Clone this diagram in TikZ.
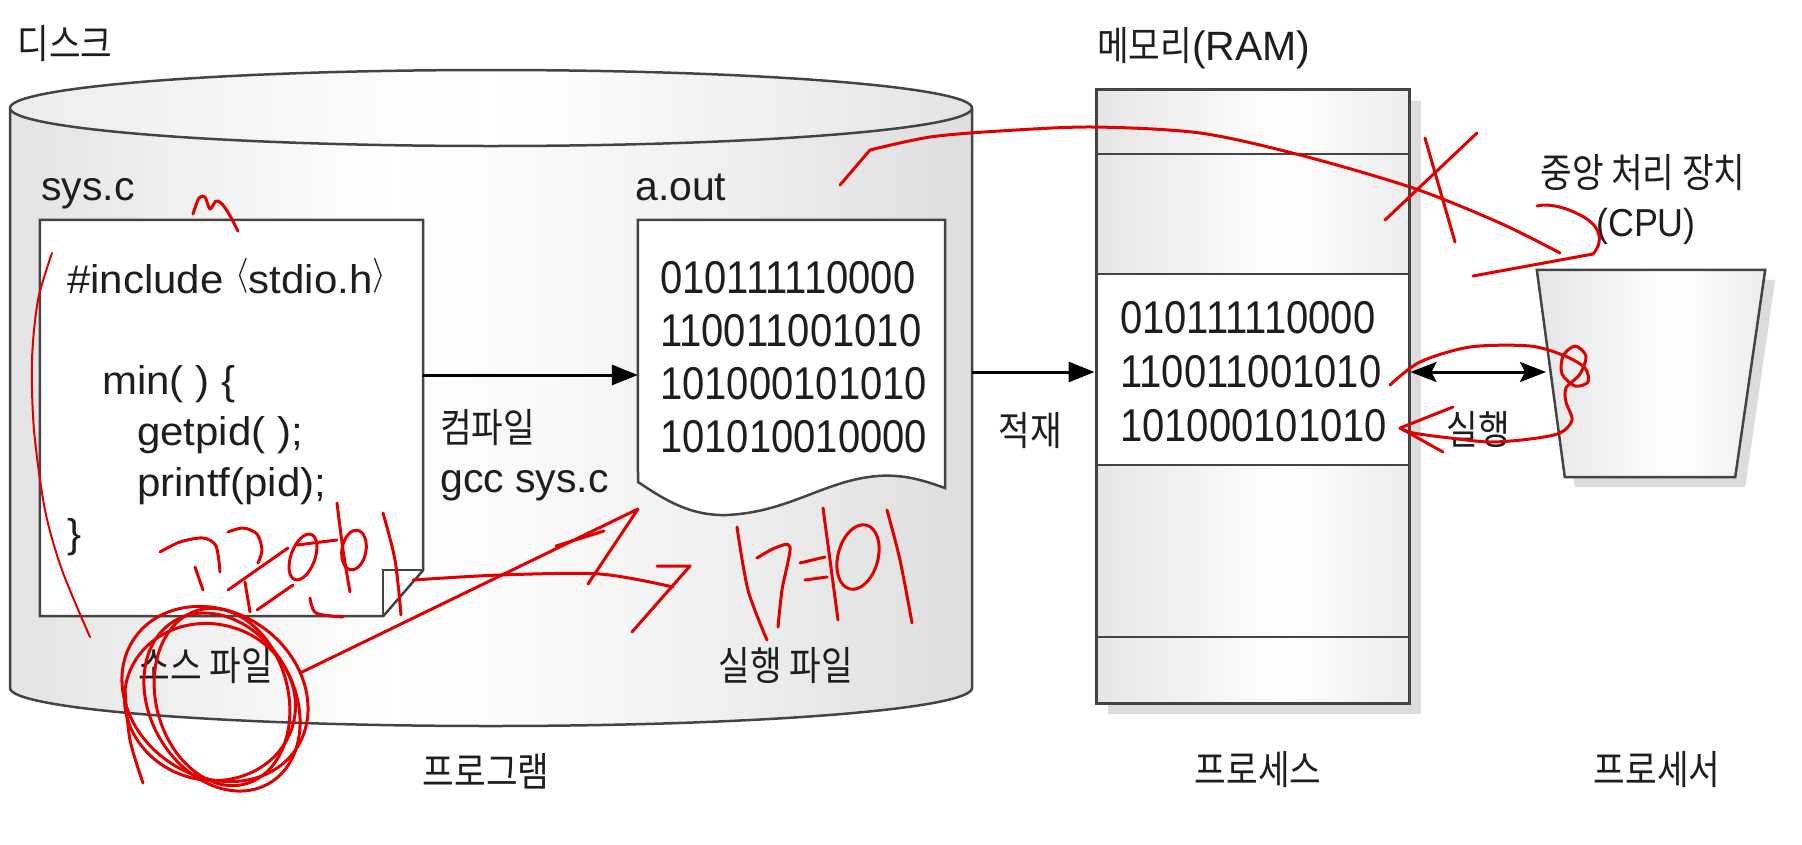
\documentclass[tikz,border=0pt]{standalone}
\usepackage{fontspec}
\setmainfont{Liberation Sans}
\newfontfamily\fkrfam[FakeStretch=0.86]{Noto Sans CJK KR}
\newfontfamily\fdigfam[FakeStretch=0.87]{Liberation Sans}
\newfontfamily\fcodefam[FakeStretch=1.05]{Liberation Sans}
\newfontfamily\fcpufam[FakeStretch=0.92]{Liberation Sans}
\usetikzlibrary{arrows.meta,calc}
\definecolor{linec}{HTML}{444444}
\definecolor{textc}{HTML}{1E1E1E}
\definecolor{inkred}{HTML}{E10000}
\definecolor{gA}{HTML}{B4B4B4}
\definecolor{gB}{HTML}{CCCCCC}
\definecolor{gW}{HTML}{F2F2F2}
\definecolor{gC}{HTML}{D0D0D0}
\definecolor{gD}{HTML}{B8B8B8}
\definecolor{gE}{HTML}{C8C8C8}
\definecolor{tA}{HTML}{DADADA}
\definecolor{tB}{HTML}{C8C8C8}
\definecolor{mA}{HTML}{D0D0D0}
\definecolor{mB}{HTML}{D6D6D6}
\definecolor{shad}{HTML}{DCDCDC}
\pgfdeclarehorizontalshading{cylside}{100bp}{color(0bp)=(gA); color(8bp)=(gB); color(45bp)=(white); color(60bp)=(gW); color(85bp)=(gC); color(95bp)=(gD); color(100bp)=(gE)}
\pgfdeclarehorizontalshading{cyltop}{100bp}{color(0bp)=(tA); color(50bp)=(white); color(100bp)=(tB)}
\pgfdeclarehorizontalshading{memsh}{100bp}{color(0bp)=(mA); color(55bp)=(white); color(100bp)=(mB)}
\newcommand\fkr{\fkrfam\fontsize{40}{44}\selectfont}
\newcommand\fdig{\fdigfam\fontsize{46}{50}\selectfont}
\newcommand\fcode{\fcodefam\fontsize{40}{44}\selectfont}
\newcommand\flatn{\normalfont\fontsize{41}{45}\selectfont}
\newcommand\fcpu{\fcpufam\fontsize{39}{43}\selectfont}
\newcommand\myla{\raisebox{8.5pt}{\resizebox*{!}{35pt}{$\langle$}}}
\newcommand\myra{\raisebox{8.5pt}{\resizebox*{!}{35pt}{$\rangle$}}}
\tikzset{
  boxline/.style={draw=linec, line width=2.5pt},
  txt/.style={inner sep=0pt, text=textc},
  krt/.style={txt, font=\fkr},
  digt/.style={txt, font=\fdig, anchor=base west},
  codet/.style={txt, font=\fcode, anchor=base west},
  latt/.style={txt, font=\flatn},
  arr/.style={draw=black, line width=3pt, -{Triangle[length=26pt,width=20pt]}},
  darr/.style={draw=black, line width=3pt, {Stealth[length=26pt,width=20pt,inset=5pt]}-{Stealth[length=26pt,width=20pt,inset=5pt]}},
  memsec/.style={boxline, minimum width=313pt, inner sep=0pt, shading=memsh},
  ink/.style={draw=inkred, line width=3pt, line cap=round, line join=round},
  inkthin/.style={draw=inkred, line width=2pt, line cap=round, line join=round}
}
\begin{document}
\begin{tikzpicture}[x=1pt,y=-1pt]
\useasboundingbox[fill=white] (0,0) rectangle (1802,844);

% ---------- disk cylinder ----------
\node[inner sep=0pt, minimum width=962pt, minimum height=656pt] (cyl) at (491,398) {};
\path[shading=cylside] (10,108) -- (10,688) arc[start angle=180, end angle=0, x radius=481, y radius=38] -- (972,108) arc[start angle=0, end angle=-180, x radius=481, y radius=38] -- cycle;
\draw[boxline] (10,108) -- (10,688) arc[start angle=180, end angle=0, x radius=481, y radius=38] -- (972,108);
\path[shading=cyltop] (491,108) ellipse[x radius=481, y radius=38];
\draw[boxline] (491,108) ellipse[x radius=481, y radius=38];
\node[krt] (tdisk) at (65,44) {디스크};

% source file
\node[inner sep=0pt, minimum width=383pt, minimum height=396pt] (src) at (231.5,418) {};
\draw[boxline, fill=white] (src.north west) -- (src.north east) -- ($(src.south east)+(0,-46)$) -- ($(src.south east)+(-40,0)$) -- (src.south west) -- cycle;
\draw[boxline] ($(src.south east)+(-40,0)$) -- ($(src.south east)+(-40,-46)$) -- ($(src.south east)+(0,-46)$);
\node[latt, anchor=base west] (tsys) at (41,200) {sys.c};
\node[codet] (c1) at (67,293) {\#include \myla stdio.h\myra};
\node[codet] (c2) at (102,394) {min( ) \{};
\node[codet] (c3) at (137,445) {getpid( );};
\node[codet] (c4) at (137,496) {printf(pid);};
\node[codet] (c5) at (67,547) {\}};
\node[krt] (tsrc) at (206,666) {소스 파일};

% executable file
\node[inner sep=0pt, minimum width=307pt, minimum height=295pt] (aout) at (791.5,367.5) {};
\draw[boxline, fill=white] (aout.north west) -- (aout.north east) -- (945,488)
  .. controls (925,481) and (905,474) .. (878,476)
  .. controls (825,480) and (790,512) .. (727,515)
  .. controls (690,516) and (665,500) .. (638,482) -- cycle;
\node[latt, anchor=base west] (taout) at (635,200) {a.out};
\node[digt] (a1) at (660,293) {010111110000};
\node[digt] (a2) at (660,346) {110011001010};
\node[digt] (a3) at (660,399) {101000101010};
\node[digt] (a4) at (660,452) {101010010000};
\node[krt] (texe) at (786,666) {실행 파일};

\coordinate (ay1) at (0,375);
\draw[arr] (src.east |- ay1) -- (aout.west |- ay1);
\node[krt, anchor=west] (tcomp) at (440,428) {컴파일};
\node[latt, anchor=base west] (tgcc) at (440,492) {gcc sys.c};
\node[krt] (tprog) at (486,771) {프로그램};

% ---------- memory ----------
\fill[shad] (1108,101) rectangle (1421,714);
\node[memsec, minimum height=65pt] (m1) at (1252.5,121.5) {};
\node[memsec, minimum height=120pt] (m2) at (1252.5,214) {};
\node[boxline, fill=white, minimum width=313pt, minimum height=191pt, inner sep=0pt] (m3) at (1252.5,369.5) {};
\node[memsec, minimum height=172pt] (m4) at (1252.5,551) {};
\node[memsec, minimum height=66pt] (m5) at (1252.5,670) {};
\node[draw=linec, line width=3pt, minimum width=313pt, minimum height=614pt, inner sep=0pt] (mem) at (1252.5,396) {};
\node[txt, anchor=base west] (tmem) at (1097,60) {\fkr 메모리\flatn(RAM)};
\node[digt] (b1) at (1120,333) {010111110000};
\node[digt] (b2) at (1120,387) {110011001010};
\node[digt] (b3) at (1120,441) {101000101010};
\node[krt] (tproc) at (1258,770) {프로세스};

\coordinate (ay2) at (0,372);
\draw[arr] (cyl.east |- ay2) -- (mem.west |- ay2);
\node[krt] (tload) at (1030,431) {적재};

% ---------- CPU ----------
\node[inner sep=0pt, minimum width=228pt, minimum height=207pt] (cpu) at (1651,373.5) {};
\fill[shad] ($(cpu.north west)+(10,10)$) -- ($(cpu.north east)+(10,10)$) -- ($(cpu.south east)+(-20,10)$) -- ($(cpu.south west)+(38,10)$) -- cycle;
\path[shading=memsh] (cpu.north west) -- (cpu.north east) -- ($(cpu.south east)+(-30,0)$) -- ($(cpu.south west)+(28,0)$) -- cycle;
\draw[boxline] (cpu.north west) -- (cpu.north east) -- ($(cpu.south east)+(-30,0)$) -- ($(cpu.south west)+(28,0)$) -- cycle;
\node[krt] (tcpu1) at (1643,173) {중앙 처리 장치};
\node[txt, font=\fcpu] (tcpu2) at (1646,226) {(CPU)};
\node[krt] (tprocr) at (1657,770) {프로세서};
\coordinate (cpuL) at (1546,372);
\draw[darr] (mem.east |- cpuL) -- (cpuL);
\node[krt] (trun) at (1478,429) {실행};

% ---------- red handwriting ----------
\draw[inkthin] plot[smooth] coordinates {(52,253) (38,300) (32,360) (34,430) (45,510) (62,570) (90,637)};
\draw[ink] plot[smooth, tension=0.5] coordinates {(193,214) (199,198) (205,197) (210,209) (216,201) (222,204) (229,214) (238,231)};
% 고급언어
\draw[ink] plot[smooth] coordinates {(160,552) (180,542) (203,538) (216,546) (220,572)};
\draw[ink] (195,567) -- (203,590);
\draw[ink] plot[smooth] coordinates {(228,532) (243,528) (257,534) (262,550) (258,563)};
\draw[ink] (228,590) -- (288,548);
\draw[ink] (245,582) -- (250,612);
\draw[ink] (257,610) -- (293,585);
\draw[ink, rotate around={-20:(303,557)}] (303,557) ellipse[x radius=12, y radius=24];
\draw[ink] (297,545) -- (337,540);
\draw[ink] plot[smooth] coordinates {(337,503) (343,550) (350,592)};
\draw[ink] plot[smooth] coordinates {(310,598) (316,613) (343,617)};
\draw[ink, rotate around={-10:(354,550)}] (354,550) ellipse[x radius=12, y radius=20];
\draw[ink] plot[smooth] coordinates {(383,513) (395,560) (401,615)};
% circle around source label
\draw[ink, rotate around={-35:(215,694)}] (215,694) ellipse[x radius=98, y radius=82];
\draw[ink, rotate around={-60:(222,702)}] (222,702) ellipse[x radius=94, y radius=72];
\draw[ink, rotate around={-15:(210,702)}] (210,702) ellipse[x radius=86, y radius=78];
\draw[ink, rotate around={-75:(222,697)}] (222,697) ellipse[x radius=90, y radius=66];
\draw[ink] plot[smooth] coordinates {(125,690) (130,740) (143,783)};
% arrow to machine language
\draw[ink] (300,673) -- (638,509) -- (588,584);
\draw[ink] (556,546) -- (604,531);
\draw[ink] plot[smooth] coordinates {(413,580) (500,575) (600,574) (673,587)};
% 기계어
\draw[ink] (657,566) -- (690,566) -- (632,632);
\draw[ink] plot[smooth] coordinates {(737,527) (748,590) (767,640)};
\draw[ink] plot[smooth] coordinates {(757,558) (775,548) (790,547) (782,590) (778,627)};
\draw[ink] (800,563) -- (825,557);
\draw[ink] (805,580) -- (827,577);
\draw[ink] plot[smooth] coordinates {(823,508) (830,560) (838,620)};
\draw[ink, rotate around={-15:(858,557)}] (858,557) ellipse[x radius=20, y radius=33];
\draw[ink] plot[smooth] coordinates {(887,510) (900,560) (912,623)};
% curve to CPU and X
\draw[ink] (840,185) -- (870,150);
\draw[ink] plot[smooth] coordinates {(870,150) (930,137) (1000,131) (1093,127) (1200,133) (1300,155) (1413,188) (1500,223) (1560,253)};
\draw[ink] (1473,276) -- (1593,254) .. controls (1605,240) and (1600,225) .. (1580,215) .. controls (1565,207) and (1548,203) .. (1537,206);
\draw[ink] (1385,220) -- (1477,133);
\draw[ink] plot[smooth] coordinates {(1425,138) (1440,190) (1455,242)};
% loop at CPU
\draw[ink] plot[smooth] coordinates {(1390,385) (1420,362) (1470,347) (1530,346) (1565,356) (1585,368) (1588,382) (1575,386) (1562,374) (1563,356) (1575,346) (1586,356) (1580,374) (1566,388) (1566,402) (1572,420) (1560,433) (1530,439) (1490,442) (1450,438) (1413,433) (1400,428)};
\draw[ink] (1453,407) -- (1400,428) -- (1443,452);
\end{tikzpicture}
\end{document}
